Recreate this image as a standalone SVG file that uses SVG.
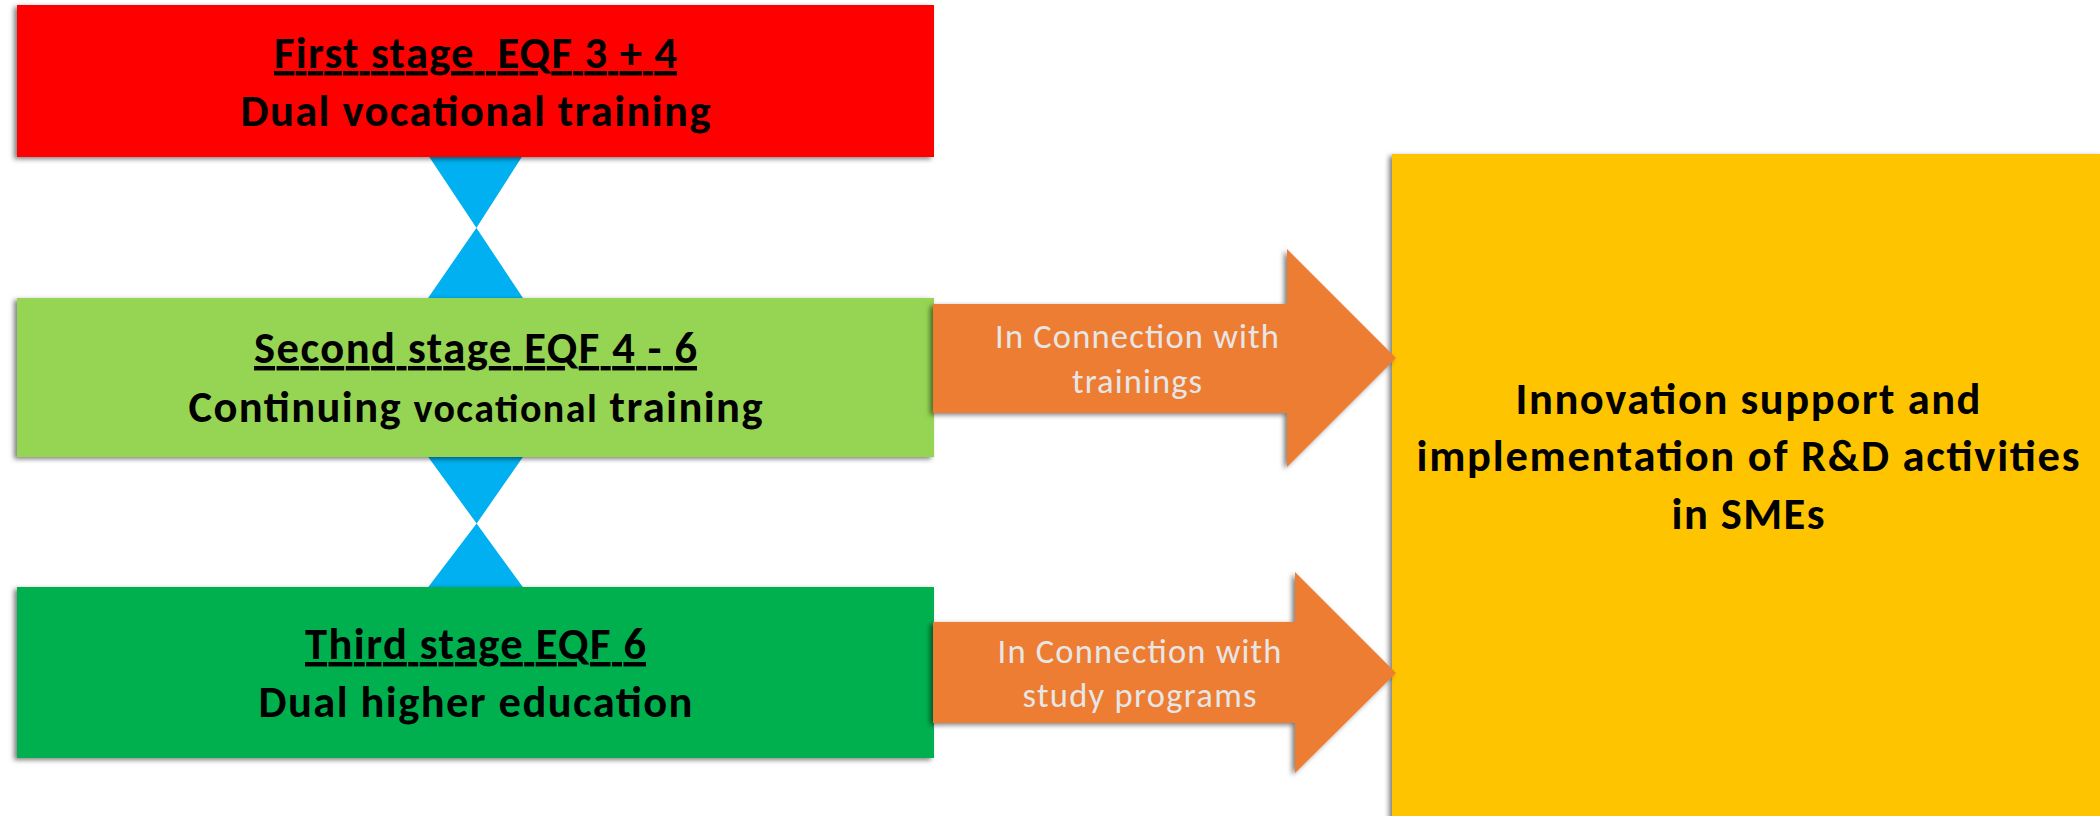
<svg xmlns="http://www.w3.org/2000/svg" width="2100" height="816" viewBox="0 0 2100 816">
<style>
.b{font-family:Carlito,Lato,"Liberation Sans",sans-serif;font-weight:700;font-size:44.5px;fill:#000;text-anchor:middle}
.u{text-decoration:underline;text-decoration-skip-ink:none;text-underline-offset:5px}
.r{font-family:Carlito,Lato,"Liberation Sans",sans-serif;font-weight:400;font-size:34.5px;fill:#E7E6E6;text-anchor:middle}
.hg{fill:#00B0F0}
.ar{fill:#ED7D31;filter:url(#sh)}
.box{filter:url(#sh)}
</style>
<defs>
<filter id="sh" x="-5%" y="-10%" width="110%" height="120%">
<feDropShadow dx="-3" dy="2" stdDeviation="2.5" flood-color="#000" flood-opacity="0.5"/>
</filter>
</defs>
<rect width="2100" height="816" fill="#fff"/>
<g id="connectors">
<polygon class="hg" points="426,152 525,152 477,227 426,301 525,301"/>
<polygon class="hg" points="426,454 525,454 477,523 426,590 525,590"/>
</g>
<g id="stage1">
<rect class="box" x="17" y="5" width="917" height="152" fill="#FF0000"/>
<text class="b u" x="475.5" y="68" textLength="403" style="white-space:pre">First stage  EQF 3 + 4</text>
<text class="b" x="475.5" y="126" textLength="470">Dual vocational training</text>
</g>
<g id="stage2">
<rect class="box" x="17" y="298" width="917" height="159" fill="#95D552"/>
<text class="b u" x="475.5" y="363" textLength="443">Second stage EQF 4 - 6</text>
<text class="b" x="475.5" y="422" textLength="574">Continuing <tspan font-size="40">vocational</tspan> training</text>
</g>
<g id="stage3">
<rect class="box" x="17" y="587" width="917" height="171" fill="#00B050"/>
<text class="b u" x="475.5" y="659" textLength="341">Third stage EQF 6</text>
<text class="b" x="475.5" y="717" textLength="434">Dual higher education</text>
</g>
<g id="innovation">
<rect class="box" x="1392" y="154" width="712" height="666" fill="#FFC400"/>
<text class="b" x="1748" y="414" textLength="465">Innovation support and</text>
<text class="b" x="1748" y="471" textLength="663">implementation of R&amp;D activities</text>
<text class="b" x="1748" y="529" textLength="153">in SMEs</text>
</g>
<g id="arrow1">
<polygon class="ar" points="933,304 1287,304 1287,249 1396,358 1287,467 1287,413 933,413"/>
<text class="r" x="1137" y="348" textLength="284">In Connection with</text>
<text class="r" x="1137" y="393" textLength="130">trainings</text>
</g>
<g id="arrow2">
<polygon class="ar" points="933,622 1295,622 1295,572 1396,673 1295,773 1295,723 933,723"/>
<text class="r" x="1139.5" y="663" textLength="284">In Connection with</text>
<text class="r" x="1139.5" y="707" textLength="234">study programs</text>
</g>
</svg>
